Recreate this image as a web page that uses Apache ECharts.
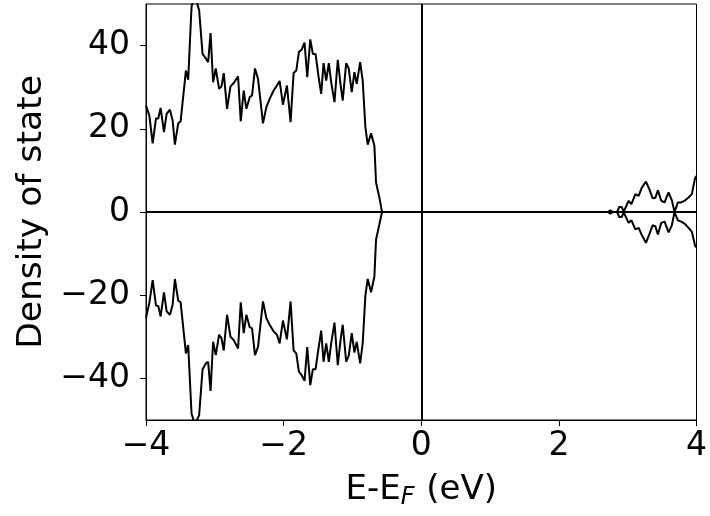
<!DOCTYPE html>
<html>
<head>
<meta charset="utf-8">
<script src="https://cdn.jsdelivr.net/npm/echarts@6/dist/echarts.min.js"></script>
<style>
html,body{margin:0;padding:0;background:#fff;}
#chart{width:710px;height:516px;}
</style>
</head>
<body>
<div id="chart"></div>
<script>
// Energy (E - E_F, eV)
const energy = [
-4.000,-3.952,-3.903,-3.855,-3.822,-3.787,-3.739,-3.700,-3.652,-3.613,
-3.580,-3.532,-3.497,-3.468,-3.420,-3.387,-3.338,-3.290,-3.228,-3.178,
-3.130,-3.097,-3.062,-3.025,-2.986,-2.938,-2.903,-2.870,-2.822,-2.772,
-2.725,-2.662,-2.623,-2.580,-2.541,-2.493,-2.459,-2.416,-2.372,-2.300,
-2.251,-2.203,-2.145,-2.097,-2.058,-2.010,-1.952,-1.899,-1.855,-1.816,
-1.778,-1.739,-1.696,-1.657,-1.613,-1.575,-1.536,-1.493,-1.454,-1.420,
-1.381,-1.343,-1.309,-1.261,-1.213,-1.174,-1.141,-1.091,-1.054,-1.010,
-0.971,-0.938,-0.888,-0.851,-0.812,-0.778,-0.729,-0.681,-0.657,-0.609,
-0.570,
2.710,2.749,2.783,2.845,2.877,2.913,2.942,
3.014,3.054,3.112,3.159,3.207,3.265,3.314,3.362,3.401,3.439,
3.488,3.536,3.594,3.642,3.681,3.729,3.778,3.836,3.884,3.932,
3.981,4.000
];
// Spin-up DOS
const dosUp = [
25.6,23.2,16.5,22.5,22.5,25.0,19.2,23.6,24.6,22.0,
16.2,21.3,21.8,21.6,34.0,31.8,49.4,52.0,48.5,38.0,
36.9,36.0,43.0,31.2,34.5,29.6,30.2,33.4,24.8,30.2,
31.0,32.6,21.8,29.2,24.8,27.6,28.0,34.5,32.0,21.3,
25.2,27.2,29.2,30.4,31.5,25.8,30.4,21.6,33.4,34.0,
38.5,39.0,40.7,32.4,41.5,38.0,38.0,32.6,28.4,35.8,
31.6,35.8,31.2,26.4,36.6,30.8,26.8,35.8,34.5,28.8,
33.6,30.8,36.0,31.6,20.4,16.2,18.9,15.9,7.1,3.5,
0,
0,0.4,0,0,1.2,1.2,0.1,
2.7,1.9,4.3,3.9,5.9,7.3,5.5,3.3,3.4,5.2,
2.7,2.3,4.7,2.8,0,2.3,2.3,2.8,3.5,4.3,
8.3,8.6
];
// Spin-down DOS
const dosDown = [
-25.5,-21.9,-16.4,-22.5,-22.6,-25.1,-19.3,-23.9,-24.7,-22.3,
-16.1,-21.3,-21.7,-21.7,-34.0,-32.0,-48.5,-51.0,-48.9,-37.8,
-36.4,-36.0,-43.0,-31.2,-34.4,-29.5,-30.3,-33.3,-24.7,-30.0,
-30.8,-32.8,-21.7,-29.1,-24.7,-27.7,-28.0,-34.4,-32.4,-21.5,
-25.5,-27.1,-28.7,-29.5,-31.6,-26.1,-30.6,-21.5,-33.3,-34.0,
-38.4,-39.2,-40.6,-32.5,-41.6,-37.8,-37.8,-32.8,-28.5,-36.0,
-31.6,-36.0,-31.6,-26.6,-36.8,-31.0,-27.1,-36.0,-34.6,-29.1,
-33.8,-31.2,-36.4,-31.6,-20.1,-16.1,-19.3,-15.5,-6.6,-3.0,
0,
0,-0.4,0,0,-1.2,-1.2,-0.1,
-2.6,-2.0,-4.2,-3.8,-5.6,-7.4,-5.4,-3.2,-3.4,-5.4,
-2.6,-2.3,-4.9,-3.2,0,-2.0,-2.3,-2.9,-3.8,-4.7,
-8.2,-8.5
];
const xTicks = [-4, -2, 0, 2, 4];
const yTicks = [-40, -20, 0, 20, 40];
const xLabel = 'E-E';
const xLabelSub = 'F';
const xLabelUnit = ' (eV)';
const yLabel = 'Density of state';

const FONT = 'DejaVu Sans';
const fmt = v => String(v).replace('-', '\u2212');

const upData = energy.map((e, i) => [e, dosUp[i]]);
const downData = energy.map((e, i) => [e, dosDown[i]]);

const chart = echarts.init(document.getElementById('chart'), null, {renderer: 'canvas'});
chart.setOption({
  animation: false,
  backgroundColor: '#fff',
  grid: {left: 146, right: 12, top: 4, bottom: 96, show: true, borderColor: '#000', borderWidth: 1, backgroundColor: 'transparent'},
  xAxis: {
    type: 'value', min: -4, max: 4,
    axisLine: {show: true, onZero: false, lineStyle: {color: '#000', width: 1}},
    axisTick: {show: true, inside: false, length: 6, customValues: xTicks, lineStyle: {color: '#000', width: 1}},
    axisLabel: {customValues: xTicks, formatter: fmt, color: '#000', fontSize: 33, fontFamily: FONT, margin: 10},
    splitLine: {show: false},
    name: '{a|' + xLabel + '}{s|' + xLabelSub + '}{a|' + xLabelUnit + '}',
    nameLocation: 'middle', nameGap: 50,
    nameTextStyle: {
      color: '#000', fontSize: 34, fontFamily: FONT,
      rich: {
        a: {fontSize: 34, fontFamily: FONT, color: '#000', lineHeight: 40},
        s: {fontSize: 24, fontFamily: FONT, fontStyle: 'italic', color: '#000', lineHeight: 40, verticalAlign: 'bottom', padding: [0, 1, 0, 0]}
      }
    }
  },
  yAxis: {
    type: 'value', min: -50, max: 50,
    axisLine: {show: true, onZero: false, lineStyle: {color: '#000', width: 1}},
    axisTick: {show: true, inside: false, length: 6, customValues: yTicks, lineStyle: {color: '#000', width: 1}},
    axisLabel: {customValues: yTicks, formatter: fmt, color: '#000', fontSize: 33, fontFamily: FONT, margin: 16},
    splitLine: {show: false},
    name: yLabel, nameLocation: 'middle', nameGap: 96,
    nameTextStyle: {color: '#000', fontSize: 34.5, fontFamily: FONT}
  },
  series: [
    {
      type: 'line', data: upData, showSymbol: false, symbol: 'none',
      lineStyle: {color: '#000', width: 2}, clip: true, z: 3,
      markLine: {
        silent: true, symbol: 'none', label: {show: false},
        lineStyle: {color: '#000', width: 2, type: 'solid'},
        data: [{xAxis: 0}, {yAxis: 0}]
      }
    },
    {
      type: 'line', data: downData, showSymbol: false, symbol: 'none',
      lineStyle: {color: '#000', width: 2}, clip: true, z: 3
    }
  ]
});
</script>
</body>
</html>
